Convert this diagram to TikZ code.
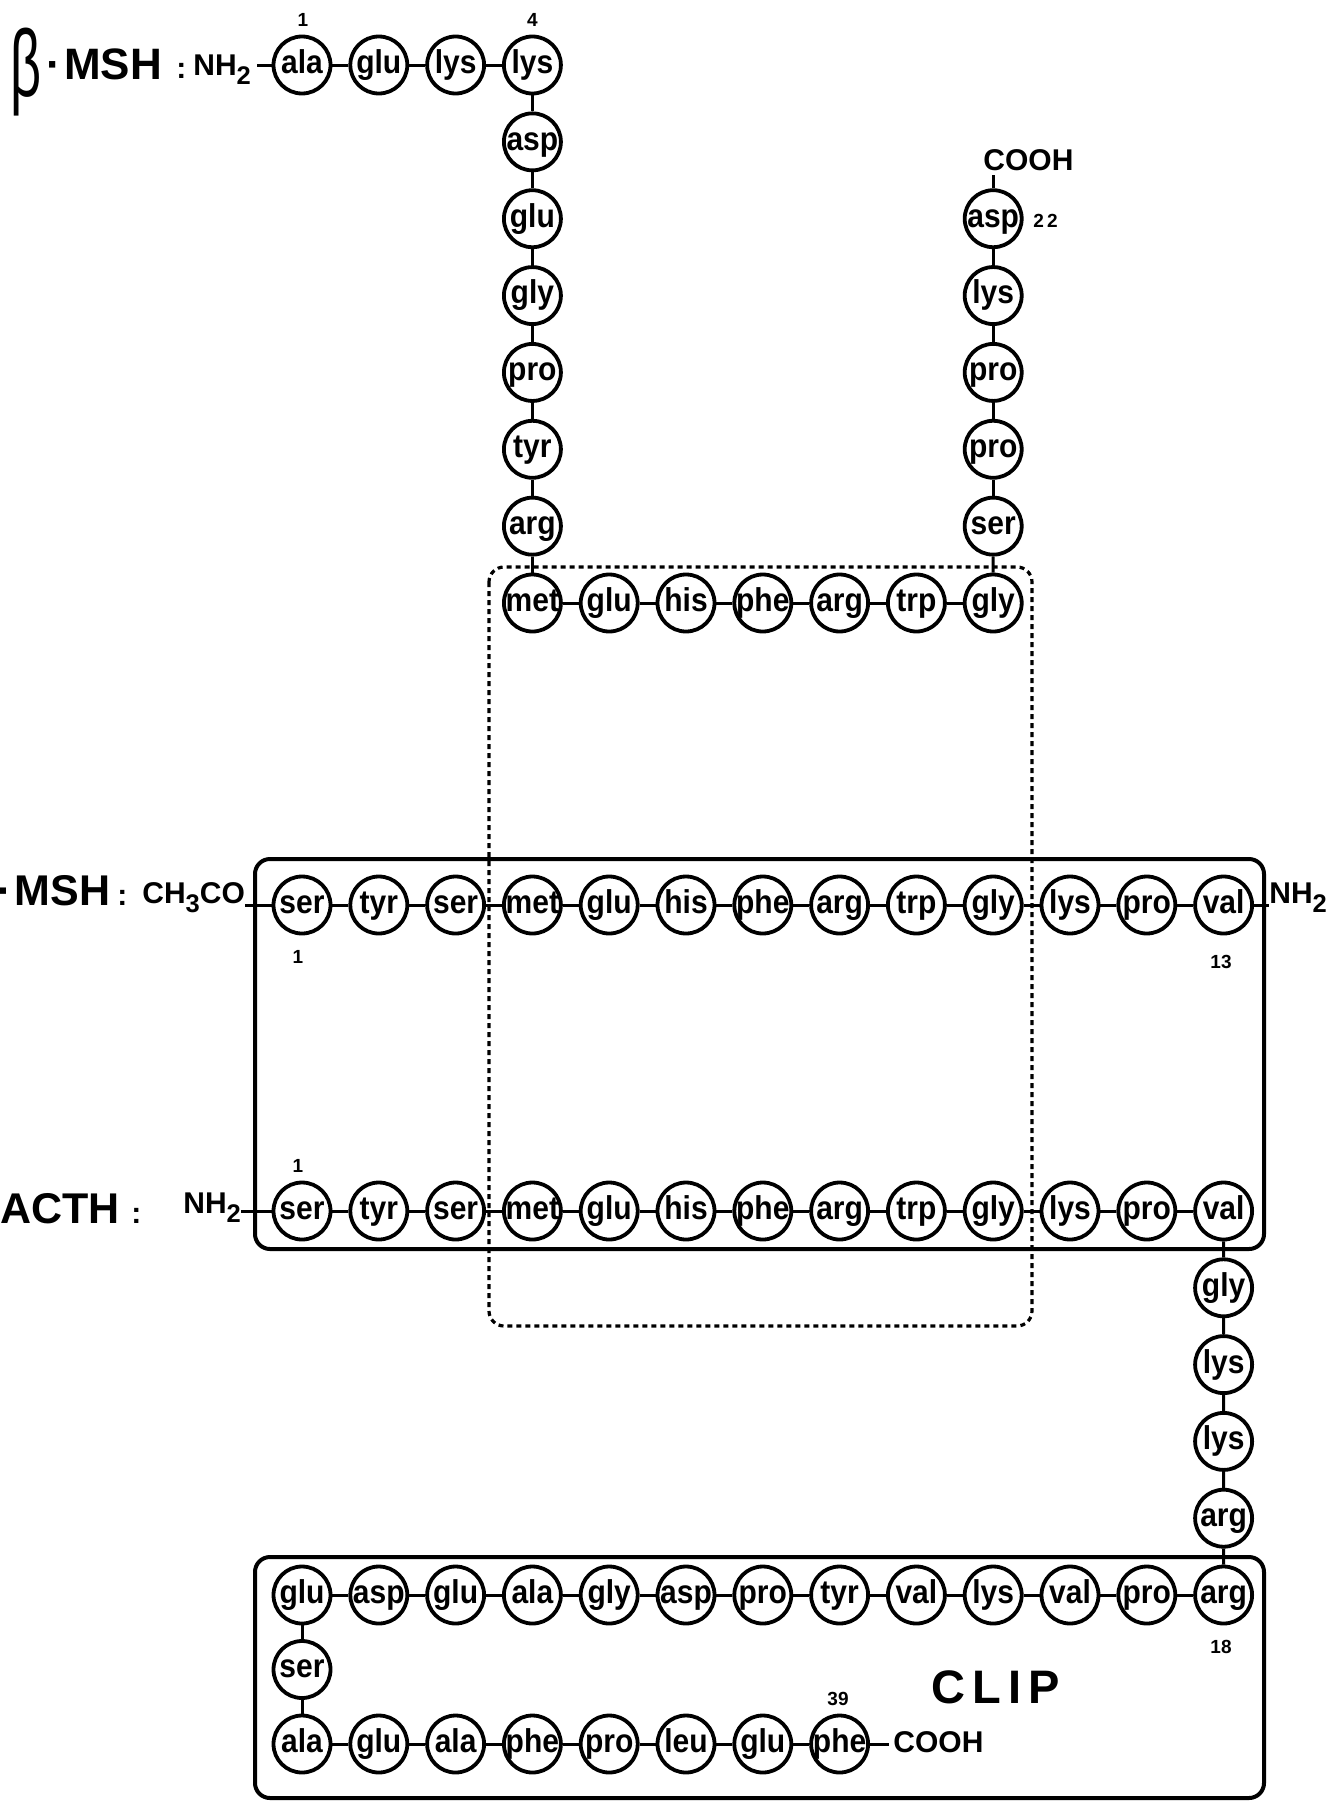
\documentclass[tikz,border=0pt]{standalone}
\usepackage{fontspec}
\usepackage{graphicx}
\setmainfont{Liberation Sans}
\newcommand\mysub[1]{\raisebox{-0.32em}{\scalebox{0.85}{#1}}}
\newcommand\restxt[1]{\makebox[0pt]{\scalebox{1}[1.1]{#1}}}
\begin{document}
\begin{tikzpicture}[x=0.5pt,y=-0.5pt,
  res/.style={circle,draw,line width=1.9pt,minimum size=28.5pt,inner sep=0pt,
    font=\fontsize{15}{15}\bfseries\selectfont,text height=11.6pt,text depth=3.2pt},
  bond/.style={line width=1.5pt},
  lab/.style={inner sep=0pt,font=\fontsize{15}{15}\bfseries\selectfont},
  big/.style={inner sep=0pt,font=\fontsize{21.5}{21.5}\bfseries\selectfont},
  num/.style={inner sep=0pt,font=\fontsize{9.5}{9.5}\bfseries\selectfont},
  pbox/.style={line width=2pt,rounded corners=7.5pt},
  dbox/.style={line width=1.6pt,rounded corners=7.5pt,dash pattern=on 2.5pt off 2pt}]
\useasboundingbox (0,0) rectangle (1335,1804);

% ---------- beta-MSH ----------
\node[inner sep=0pt,anchor=west] (beta) at (10,72) {\scalebox{0.6}[1.05]{\fontsize{45}{45}\selectfont β}};
\node[big,font=\fontsize{22}{22}\bfseries\selectfont,anchor=base west] (msh1) at (46,79) {·\hspace{1.5pt}MSH};
\node[lab,anchor=base west] (col1) at (176,78) {:};
\node[lab,anchor=base west] (nh1) at (193,75) {NH\mysub{2}};

\foreach \t [count=\i from 0] in {ala,glu,lys,lys} {
  \node[res] (b\i) at ({302+76.8*\i},65) {\restxt{\t}};
}
\foreach \t [count=\i from 4] in {asp,glu,gly,pro,tyr,arg} {
  \node[res] (b\i) at (532.4,{65+76.86*(\i-3)}) {\restxt{\t}};
}
\foreach \t [count=\i from 10] in {met,glu,his,phe,arg,trp,gly} {
  \node[res] (b\i) at ({302+76.8*(\i-7)},603) {\restxt{\t}};
}
\foreach \t [count=\i from 17] in {ser,pro,pro,lys,asp} {
  \node[res] (b\i) at (993.2,{603-76.86*(\i-16)}) {\restxt{\t}};
}
\foreach \i [count=\j from 1] in {0,...,20} { \draw[bond] (b\i) -- (b\j); }
\draw[bond] ([xshift=3pt]b0 -| nh1.east) -- (b0);

\node[num] (n1b) at (303,20) {1};
\node[num] (n4b) at (532.4,20) {4};
\node[lab,anchor=base west] (cooht) at (983,170) {COOH};
\draw[bond] (b21) -- ([yshift=-2pt]b21 |- cooht.south);
\node[num,anchor=west] (n22) at (1033,221) {2\,2};

% ---------- alpha-MSH ----------
\node[big,anchor=base west] (msh2) at (-3,905) {·\hspace{1.5pt}MSH};
\node[lab,anchor=base west] (col2) at (117,905) {:};
\node[lab,anchor=base west] (ch3) at (142,903) {CH\mysub{3}CO};
\foreach \t [count=\i from 0] in {ser,tyr,ser,met,glu,his,phe,arg,trp,gly,lys,pro,val} {
  \node[res] (a\i) at ({302+76.8*\i},905) {\restxt{\t}};
}
\foreach \i [count=\j from 1] in {0,...,11} { \draw[bond] (a\i) -- (a\j); }
\draw[bond] (a0 -| ch3.east) -- (a0);
\node[lab,anchor=base west] (nh2r) at (1269,903) {NH\mysub{2}};
\draw[bond] (a12) -- (a12 -| nh2r.west);
\node[num] (n1a) at (298,957) {1};
\node[num] (n13) at (1221,962) {13};

% ---------- ACTH ----------
\node[big,anchor=base west] (acth) at (0,1223) {ACTH};
\node[lab,anchor=base west] (col3) at (131,1223) {:};
\node[lab,anchor=base west] (nh3) at (183,1213) {NH\mysub{2}};
\foreach \t [count=\i from 0] in {ser,tyr,ser,met,glu,his,phe,arg,trp,gly,lys,pro,val} {
  \node[res] (c\i) at ({302+76.8*\i},1211) {\restxt{\t}};
}
\foreach \i [count=\j from 1] in {0,...,11} { \draw[bond] (c\i) -- (c\j); }
\draw[bond] (c0 -| nh3.east) -- (c0);
\node[num] (n1c) at (298,1166) {1};

% chain down
\foreach \t [count=\i from 1] in {gly,lys,lys,arg} {
  \node[res] (v\i) at (1223.6,{1211+76.8*\i}) {\restxt{\t}};
}
\draw[bond] (c12) -- (v1) -- (v2) -- (v3) -- (v4);

% ---------- CLIP ----------
\foreach \t [count=\i from 0] in {glu,asp,glu,ala,gly,asp,pro,tyr,val,lys,val,pro,arg} {
  \node[res] (k\i) at ({302+76.8*\i},1595) {\restxt{\t}};
}
\foreach \i [count=\j from 1] in {0,...,11} { \draw[bond] (k\i) -- (k\j); }
\draw[bond] (v4) -- (k12);
\node[res] (s1) at (302,1669.5) {\restxt{ser}};
\foreach \t [count=\i from 0] in {ala,glu,ala,phe,pro,leu,glu,phe} {
  \node[res] (m\i) at ({302+76.8*\i},1744) {\restxt{\t}};
}
\foreach \i [count=\j from 1] in {0,...,6} { \draw[bond] (m\i) -- (m\j); }
\draw[bond] (k0) -- (s1) -- (m0);
\node[lab,anchor=base west] (coohb) at (893,1752) {COOH};
\draw[bond] (m7) -- ([xshift=-2pt]m7 -| coohb.west);
\node[num] (n18) at (1221,1647) {18};
\node[num] (n39) at (838,1699) {39};
\node[inner sep=0pt,font=\fontsize{23.5}{23.5}\bfseries\selectfont] (clip) at (996,1687) {C\hspace{3.5pt}L\hspace{3.5pt}I\hspace{3.5pt}P};

% ---------- boxes ----------
\draw[pbox] (255,859) rectangle (1264,1249);
\draw[dbox] (489,567) rectangle (1032,1326);
\draw[pbox] (255,1557) rectangle (1264,1798);
\end{tikzpicture}
\end{document}
